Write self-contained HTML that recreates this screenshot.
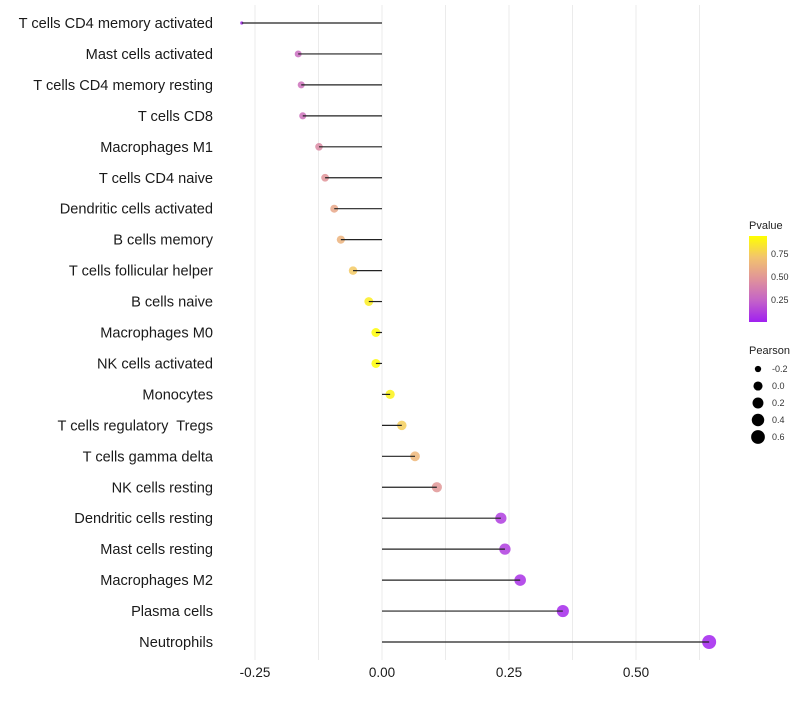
<!DOCTYPE html>
<html><head><meta charset="utf-8"><style>
body{margin:0;background:#fff;font-family:"Liberation Sans",sans-serif}
</style></head><body>
<svg id="chart" width="800" height="700" xmlns="http://www.w3.org/2000/svg">
<defs><linearGradient id="pg" x1="0" y1="1" x2="0" y2="0">
<stop offset="0" stop-color="#a020f0"/><stop offset="0.25" stop-color="#c463c8"/><stop offset="0.5" stop-color="#e0939a"/><stop offset="0.75" stop-color="#f2c36e"/><stop offset="1" stop-color="#ffff00"/></linearGradient></defs>
<g id="grid"></g>
<g id="points"></g>
<g id="marks"></g>
<g id="labels"></g>
<g id="xticks"></g>
<g>
<text x="749" y="229" font-size="11" fill="#222">Pvalue</text>
<rect x="749" y="236" width="18" height="86" fill="url(#pg)"/>
<text x="771" y="257" font-size="9" fill="#333">0.75</text>
<text x="771" y="280" font-size="9" fill="#333">0.50</text>
<text x="771" y="303" font-size="9" fill="#333">0.25</text>
</g>
<g id="sizeleg">
<text x="749" y="354" font-size="11" fill="#222">Pearson</text>
</g>
</svg>
<script>
const categories=["T cells CD4 memory activated","Mast cells activated","T cells CD4 memory resting","T cells CD8","Macrophages M1","T cells CD4 naive","Dendritic cells activated","B cells memory","T cells follicular helper","B cells naive","Macrophages M0","NK cells activated","Monocytes","T cells regulatory  Tregs","T cells gamma delta","NK cells resting","Dendritic cells resting","Mast cells resting","Macrophages M2","Plasma cells","Neutrophils"];
const pearson=[-0.276,-0.165,-0.159,-0.156,-0.124,-0.112,-0.094,-0.081,-0.057,-0.026,-0.012,-0.012,0.016,0.039,0.065,0.108,0.234,0.242,0.272,0.356,0.644];
const pvalues=[0.02,0.28,0.3,0.3,0.42,0.47,0.56,0.62,0.72,0.86,0.92,0.92,0.88,0.74,0.64,0.48,0.1,0.1,0.06,0.03,0.01];
const xTicks=[-0.25,0,0.25,0.5];
const xTickLabels=["-0.25","0.00","0.25","0.50"];
const sizeLegend=[-0.2,0,0.2,0.4,0.6];
const sizeLegendLabels=["-0.2","0.0","0.2","0.4","0.6"];
const NS="http://www.w3.org/2000/svg";
const xs=v=>382+v*508;
const ys=i=>23+i*30.95;
const rs=v=>1.6+5.4*Math.sqrt(Math.max(0,(v+0.276)/0.92));
const stops=[[0,[160,32,240]],[0.25,[196,99,200]],[0.5,[224,147,154]],[0.75,[242,195,110]],[1,[255,255,0]]];
function col(p){let t=Math.min(1,Math.max(0,p/0.93));for(let k=1;k<stops.length;k++){if(t<=stops[k][0]){const a=stops[k-1],b=stops[k],f=(t-a[0])/(b[0]-a[0]);return "rgb("+a[1].map((c,j)=>Math.round(c+(b[1][j]-c)*f)).join(",")+")";}}return "rgb(255,255,0)";}
function mk(tag,at,parent){const e=document.createElementNS(NS,tag);for(const k in at)e.setAttribute(k,at[k]);parent.appendChild(e);return e;}
const grid=document.getElementById('grid'),points=document.getElementById('points'),marks=document.getElementById('marks'),labels=document.getElementById('labels'),xt=document.getElementById('xticks'),sl=document.getElementById('sizeleg');
for(let g=-0.25;g<=0.63;g+=0.125){const l=mk('line',{x1:xs(g),x2:xs(g),y1:5,y2:660,stroke:'#ebebeb','stroke-width':1},grid);

}
categories.forEach((c,i)=>{
const y=ys(i);
const pt=mk('circle',{cx:xs(pearson[i]),cy:y,r:rs(pearson[i]),fill:col(pvalues[i]),'fill-opacity':0.85},points);


const ln=mk('line',{x1:xs(0),x2:xs(pearson[i]),y1:y,y2:y,stroke:'#222','stroke-width':1.2},marks);


const t=mk('text',{x:213,y:y+5,'text-anchor':'end','font-size':14.6,fill:'#1a1a1a','xml:space':'preserve'},labels);
t.style.whiteSpace='pre';
t.textContent=c;


});
xTicks.forEach((v,i)=>{const t=mk('text',{x:xs(v),y:677,'text-anchor':'middle','font-size':13.5,fill:'#1a1a1a'},xt);
t.textContent=xTickLabels[i];

});
sizeLegend.forEach((v,i)=>{const y=369+i*17;
const c=mk('circle',{cx:758,cy:y,r:rs(v),fill:'#000'},sl);


const t=mk('text',{x:772,y:y+3,'font-size':9,fill:'#333'},sl);
t.textContent=sizeLegendLabels[i];

});
</script>
</body></html>
